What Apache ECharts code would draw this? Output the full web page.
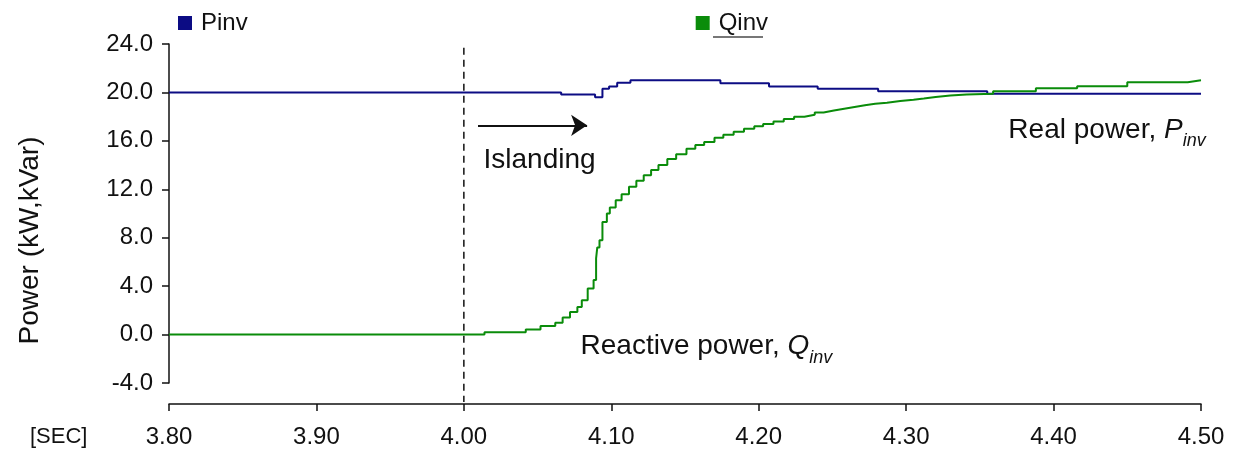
<!DOCTYPE html>
<html><head><meta charset="utf-8">
<script src="https://cdn.jsdelivr.net/npm/echarts@6/dist/echarts.min.js"></script>
<style>html,body{margin:0;padding:0;background:#fff}#c{width:1233px;height:452px}</style>
</head><body><div id="c"></div>
<script>
// ---- data ----
const seriesNames = ['Pinv', 'Qinv'];
const pinvTime = [3.80, 4.066, 4.089, 4.094, 4.0985, 4.104, 4.113, 4.174, 4.207, 4.240, 4.281, 4.355, 4.50];
const pinvVal  = [20.0, 19.83, 19.6, 20.3, 20.5, 20.8, 21.0, 20.75, 20.5, 20.3, 20.1, 19.9, 19.9];
const qinvTime = [3.80, 4.014, 4.042, 4.052, 4.062, 4.067, 4.072, 4.077, 4.080, 4.084, 4.088, 4.0897, 4.0905, 4.092,
  4.094, 4.097, 4.099, 4.103, 4.107, 4.112, 4.117, 4.122, 4.127, 4.132, 4.138, 4.144, 4.151, 4.157, 4.163, 4.170,
  4.176, 4.183, 4.190, 4.197, 4.203, 4.210, 4.217, 4.224, 4.231, 4.238, 4.244, 4.251, 4.258, 4.265, 4.272, 4.279,
  4.287, 4.296, 4.305, 4.312, 4.320, 4.330, 4.341, 4.359, 4.388, 4.416, 4.450, 4.491, 4.50];
const qinvVal  = [0.0, 0.2, 0.42, 0.7, 0.97, 1.41, 1.87, 2.28, 2.84, 3.8, 4.5, 6.3, 7.2, 7.8,
  9.3, 10.0, 10.5, 11.1, 11.6, 12.2, 12.7, 13.15, 13.6, 14.0, 14.5, 14.9, 15.35, 15.65, 15.9, 16.25,
  16.5, 16.75, 17.0, 17.2, 17.4, 17.6, 17.8, 18.0, 18.15, 18.35, 18.5, 18.65, 18.8, 18.95, 19.07, 19.15,
  19.3, 19.4, 19.5, 19.62, 19.75, 19.82, 19.9, 20.1, 20.35, 20.52, 20.85, 21.0, 21.0];
const xMin = 3.8, xMax = 4.5, xStep = 0.1;
const yMin = -4, yMax = 24, yStep = 4;
const islandTime = 4.0, islandTop = 23.7;
const arrowFrom = [4.0096, 17.28], arrowTo = [4.0836, 17.28];
const islandingLabel = { text: 'Islanding', at: [4.013, 14.4] };
const reactiveLabel = { main: 'Reactive power, ', sym: 'Q', sub: 'inv', at: [4.0788, -1.0] };
const realLabel = { main: 'Real power, ', sym: 'P', sub: 'inv', at: [4.369, 16.9] };
const yAxisTitle = 'Power (kW,kVar)';
const xUnitLabel = '[SEC]';

// ---- chart ----
const FONT = '"Liberation Sans", Arial, Helvetica, sans-serif';
const INK = '#111';
const X_OFFSET = 21;
const chart = echarts.init(document.getElementById('c'), null, { renderer: 'canvas' });
const pair = (ts, vs) => ts.map((t, i) => [t, vs[i]]);

const richStyles = {
  a: { fontFamily: FONT, fontSize: 28, color: INK, lineHeight: 40 },
  b: { fontFamily: FONT, fontSize: 28, fontStyle: 'italic', color: INK, lineHeight: 40 },
  c: { fontFamily: FONT, fontSize: 18, fontStyle: 'italic', color: INK, lineHeight: 20, verticalAlign: 'bottom' }
};

const option = {
  animation: false,
  backgroundColor: '#fff',
  grid: { left: 169, right: 32, top: 44, bottom: 69, containLabel: false },
  legend: {
    data: seriesNames,
    left: 173, top: 6,
    itemWidth: 14, itemHeight: 14, itemGap: 448,
    icon: 'rect',
    textStyle: { fontFamily: FONT, fontSize: 24, color: INK, padding: [0, 0, 0, 4] }
  },
  xAxis: {
    type: 'value', min: xMin, max: xMax, interval: xStep,
    offset: X_OFFSET,
    axisLine: { show: true, onZero: false, lineStyle: { color: INK, width: 1.5 } },
    axisTick: { show: true, inside: false, length: 7, lineStyle: { color: INK, width: 1.5 } },
    splitLine: { show: false },
    axisLabel: { fontFamily: FONT, fontSize: 24, color: INK, margin: 21, formatter: v => v.toFixed(2) }
  },
  yAxis: {
    type: 'value', min: yMin, max: yMax, interval: yStep,
    axisLine: { show: true, onZero: false, lineStyle: { color: INK, width: 1.5 } },
    axisTick: { show: true, inside: false, length: 7, lineStyle: { color: INK, width: 1.5 } },
    splitLine: { show: false },
    axisLabel: { fontFamily: FONT, fontSize: 24, color: INK, margin: 16, formatter: v => v.toFixed(1) }
  },
  series: [
    {
      name: 'Pinv', type: 'line', step: 'end', showSymbol: false,
      data: pair(pinvTime, pinvVal),
      itemStyle: { color: '#0c0c84' },
      lineStyle: { color: '#0c0c84', width: 2 },
      z: 2,
      markLine: {
        silent: true, animation: false,
        label: { show: false },
        data: [
          [ { coord: arrowFrom, symbol: 'none', lineStyle: { color: INK, width: 2, type: 'solid' } },
            { coord: arrowTo, symbol: 'arrow', symbolSize: 16 } ]
        ]
      },
      markPoint: {
        silent: true, animation: false,
        symbol: 'circle', symbolSize: 1, itemStyle: { color: 'rgba(0,0,0,0)' },
        data: [
          { coord: islandingLabel.at, label: { show: true, position: 'right', distance: 0,
              formatter: islandingLabel.text, fontFamily: FONT, fontSize: 28, color: INK } },
          { coord: realLabel.at, label: { show: true, position: 'right', distance: 0,
              formatter: '{a|' + realLabel.main + '}{b|' + realLabel.sym + '}{c|' + realLabel.sub + '}', rich: richStyles } }
        ]
      }
    },
    {
      name: 'Qinv', type: 'line', step: 'end', showSymbol: false,
      data: pair(qinvTime, qinvVal),
      itemStyle: { color: '#0a8c0a' },
      lineStyle: { color: '#0a8c0a', width: 2 },
      z: 3,
      markPoint: {
        silent: true, animation: false,
        symbol: 'circle', symbolSize: 1, itemStyle: { color: 'rgba(0,0,0,0)' },
        data: [
          { coord: reactiveLabel.at, label: { show: true, position: 'right', distance: 0,
              formatter: '{a|' + reactiveLabel.main + '}{b|' + reactiveLabel.sym + '}{c|' + reactiveLabel.sub + '}', rich: richStyles } }
        ]
      }
    }
  ]
};
chart.setOption(option);

// annotations placed through the chart's own scales
const pTop = chart.convertToPixel({ gridIndex: 0 }, [islandTime, islandTop]);
const pBot = chart.convertToPixel({ gridIndex: 0 }, [islandTime, yMin]);
const gridRect = chart.getModel().getComponent('grid', 0).coordinateSystem.getRect();
chart.setOption({
  graphic: [
    { type: 'line', silent: true, z: 1,
      shape: { x1: pTop[0], y1: pTop[1], x2: pBot[0], y2: pBot[1] + X_OFFSET - 2 },
      style: { stroke: INK, lineWidth: 1.5, lineDash: [7, 5] } },
    { type: 'text', x: 30, y: (gridRect.y + gridRect.y + gridRect.height) / 2 + 27, rotation: Math.PI / 2,
      style: { text: yAxisTitle, font: '28px ' + FONT, fill: INK, align: 'center', verticalAlign: 'middle' } },
    { type: 'text', left: 30, top: 426, style: { text: xUnitLabel, font: '22px ' + FONT, fill: INK } },
    { type: 'rect', shape: { x: 713, y: 36, width: 50, height: 2 }, style: { fill: '#777' } }
  ]
});
</script>
</body></html>
